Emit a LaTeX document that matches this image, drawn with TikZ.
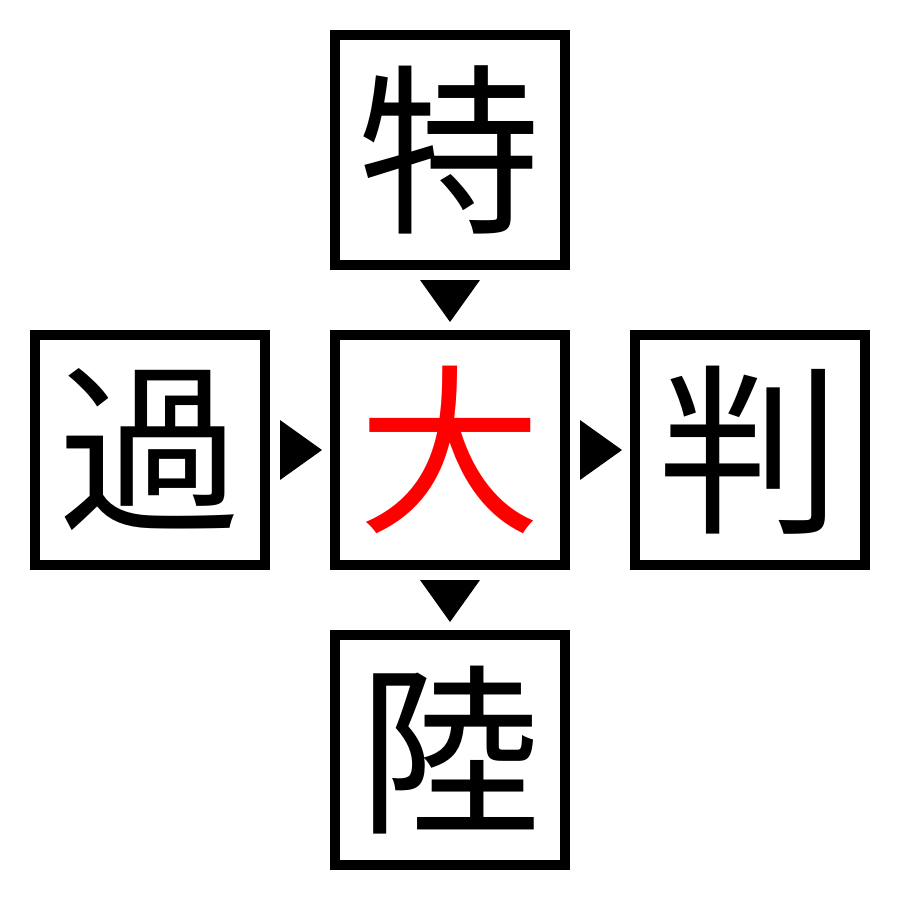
\documentclass[tikz,border=0pt]{standalone}
\usepackage{fontspec}
\newfontfamily\cjk{Noto Sans CJK JP}
\usetikzlibrary{calc}
\definecolor{kred}{RGB}{255,0,0}
\tikzset{
  kbox/.style={draw=black, line width=0.1cm, minimum size=2.3cm, inner sep=0pt,
    font=\cjk\fontsize{52pt}{52pt}\selectfont},
  tri/.style={fill=black, draw=none}
}
\begin{document}
\begin{tikzpicture}[x=0.01cm,y=-0.01cm]
\useasboundingbox[fill=white] (0,0) rectangle (900,900);
\node[kbox] (t) at (450,150) {特};
\node[kbox] (l) at (150,450) {過};
\node[kbox, text=kred] (c) at (450,450) {大};
\node[kbox] (r) at (750,450) {判};
\node[kbox] (b) at (450,750) {陸};
% down-pointing triangles
\coordinate (m1) at ($(t.south)!0.5!(c.north)$);
\coordinate (m2) at ($(c.south)!0.5!(b.north)$);
\coordinate (m3) at ($(l.east)!0.5!(c.west)$);
\coordinate (m4) at ($(c.east)!0.5!(r.west)$);
\fill[tri] ($(m1)+(-30,-20)$) -- ($(m1)+(30,-20)$) -- ($(m1)+(0,22)$) -- cycle;
\fill[tri] ($(m2)+(-30,-20)$) -- ($(m2)+(30,-20)$) -- ($(m2)+(0,22)$) -- cycle;
\fill[tri] ($(m3)+(-20,-30)$) -- ($(m3)+(-20,30)$) -- ($(m3)+(22,0)$) -- cycle;
\fill[tri] ($(m4)+(-20,-30)$) -- ($(m4)+(-20,30)$) -- ($(m4)+(22,0)$) -- cycle;
\end{tikzpicture}
\end{document}
